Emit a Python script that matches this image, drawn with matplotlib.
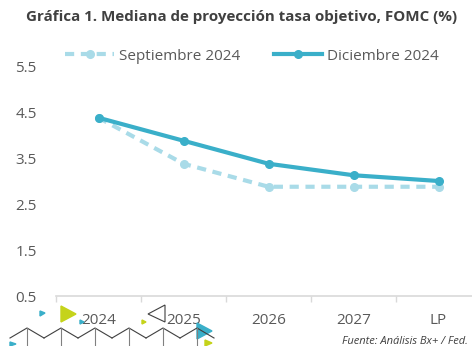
import matplotlib.pyplot as plt
from matplotlib.patches import Polygon
from matplotlib.lines import Line2D

plt.rcParams['font.family'] = ['Open Sans', 'DejaVu Sans']

# data
categorias = ['2024', '2025', '2026', '2027', 'LP']
septiembre = [4.375, 3.375, 2.875, 2.875, 2.875]
diciembre = [4.375, 3.875, 3.375, 3.125, 3.0]
yticks = [0.5, 1.5, 2.5, 3.5, 4.5, 5.5]

col_dic = '#3aafc9'
col_sep = '#a9dbe8'
gris = '#595959'

fig = plt.figure(figsize=(4.72, 3.46), dpi=100)
ax = fig.add_axes([56/472, 1 - 296/346, 425/472, 230/346])

x = list(range(len(categorias)))
ax.plot(x, septiembre, color=col_sep, lw=3, ls=(0, (2.2, 1.6)), marker='o', ms=5.5,
        label='Septiembre 2024', zorder=2)
ax.plot(x, diciembre, color=col_dic, lw=3, marker='o', ms=5.5,
        label='Diciembre 2024', zorder=3)

ax.set_xlim(-0.5, 4.5)
ax.set_ylim(0.5, 5.5)
ax.set_yticks(yticks)
ax.set_yticklabels([f'{v:.1f}' for v in yticks])
ax.set_xticks(x)
ax.set_xticklabels(categorias)
ax.set_xticks([i - 0.5 for i in range(len(categorias) + 1)], minor=True)
ax.tick_params(axis='x', which='major', length=0, pad=12, labelsize=11, colors=gris)
ax.tick_params(axis='x', which='minor', length=4, color='#d9d9d9', width=1)
ax.tick_params(axis='y', length=0, pad=14, labelsize=11, colors=gris)
for s in ['top', 'right', 'left']:
    ax.spines[s].set_visible(False)
ax.spines['bottom'].set_color('#d9d9d9')
ax.spines['bottom'].set_linewidth(1.2)

fig.text(242/472, 1 - 17/346, 'Gráfica 1. Mediana de proyección tasa objetivo, FOMC (%)',
         ha='center', va='center', fontsize=10.9, fontweight='bold', color='#404040')

leg = fig.legend(loc='center', bbox_to_anchor=(252/472, 1 - 56/346), ncol=2,
                 frameon=False, fontsize=11, handlelength=3.2, columnspacing=2.2,
                 handletextpad=0.3, labelcolor=gris)

fig.text(468/472, 1 - 341/346, 'Fuente: Análisis Bx+ / Fed.', ha='right', va='center',
         fontsize=8, style='italic', color='#404040')

# decoracion inferior (triangulos)
def tri(pts, **kw):
    fig.add_artist(Polygon([(a/472, 1 - b/346) for a, b in pts], closed=True,
                           transform=fig.transFigure, **kw))

tri([(61, 306), (61, 322), (76, 314)], color='#c5d31a')
tri([(197, 323), (197, 339), (212, 331)], color='#3aafc9')
tri([(40, 311), (40, 316), (45, 313)], color='#3aafc9')
tri([(10, 342), (10, 346), (16, 344)], color='#3aafc9')
tri([(142, 320), (142, 324), (146, 322)], color='#c5d31a')
tri([(80, 320), (80, 324), (84, 322)], color='#3aafc9')
tri([(205, 340), (205, 346), (212, 343)], color='#c5d31a')
tri([(165, 305), (148, 314), (165, 322)], fill=False, edgecolor='#404040', lw=0.8)
for x0 in range(10, 200, 34):
    fig.add_artist(Line2D([x0/472, (x0 + 17)/472, (x0 + 34)/472],
                          [1 - 338/346, 1 - 328/346, 1 - 338/346],
                          transform=fig.transFigure, color='#404040', lw=0.8))
    fig.add_artist(Line2D([(x0 + 17)/472, (x0 + 17)/472], [1 - 328/346, 0],
                          transform=fig.transFigure, color='#808080', lw=0.8))

fig.savefig('out.png', dpi=100)
